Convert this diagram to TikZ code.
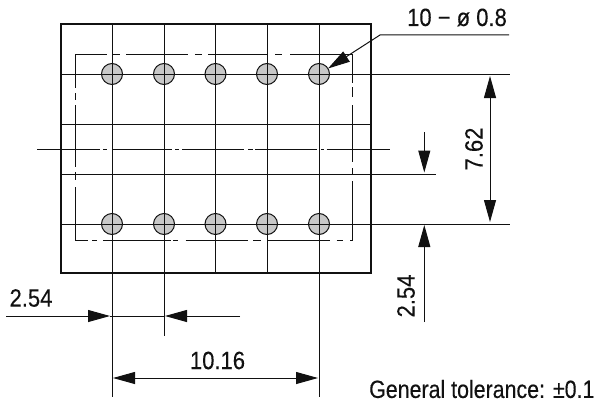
\documentclass[tikz,border=0pt]{standalone}
\usepackage{fontspec}
\setmainfont[FakeStretch=0.88,FakeBold=0.25]{Liberation Sans}
\newfontfamily\tolfont[FakeStretch=0.855,FakeBold=0.25]{Liberation Sans}
\usetikzlibrary{arrows.meta}
\definecolor{pinfill}{HTML}{C8C8C8}
\definecolor{inkc}{HTML}{111111}
\tikzset{
  thin line/.style={draw=inkc,line width=1pt},
  outline/.style={draw=inkc,line width=2pt},
  dd line/.style={draw=inkc,line width=1pt},
  pin/.style={circle,draw=inkc,line width=1pt,fill=pinfill,minimum size=21pt,inner sep=0pt},
  dim/.style={thin line,-{Triangle[length=22pt,width=12pt]}},
  dimboth/.style={thin line,{Triangle[length=22pt,width=12pt]}-{Triangle[length=22pt,width=12pt]}},
  label/.style={inner sep=0pt,text=inkc,font=\fontsize{25pt}{25pt}\selectfont},
}
\begin{document}
\begin{tikzpicture}[x=1pt,y=-1pt]
\useasboundingbox (0,0) rectangle (596,404);
% pins first, so the centre lines run over them
\foreach \n/\x in {1/112,2/164,3/215.5,4/267,5/319}{
  \node[pin] (t\n) at (\x,74) {};
  \node[pin] (b\n) at (\x,224) {};
}
% outline
\draw[outline] (61,24) rectangle (370.5,273);
% vertical centre lines
\draw[thin line] (112,24) -- (112,397);
\draw[thin line] (164,24) -- (164,336);
\draw[thin line] (215.5,24) -- (215.5,273);
\draw[thin line] (267,24) -- (267,273);
\draw[thin line] (319,24) -- (319,397);
% horizontal lines
\draw[thin line] (61,74) -- (510,74);
\draw[thin line] (61,124) -- (370.5,124);
\draw[thin line] (61,174) -- (436,174);
\draw[thin line] (61,224) -- (510,224);
% dash-dot rectangle, side by side
\draw[dd line,dash pattern=on 31.4pt off 6.3pt on 7pt off 6.3pt on 62pt off 6.5pt on 7pt off 6.5pt on 60pt off 7pt on 7pt off 8pt on 62pt] (75.3,54.3) -- (352.7,54.3);
\draw[dd line,dash pattern=on 33.7pt off 5pt on 7pt off 5pt on 62pt off 5pt on 8pt off 7pt on 60pt] (75.3,54.3) -- (75.3,240.7);
\draw[dd line,dash pattern=on 28.7pt off 4pt on 10pt off 8pt on 57pt off 6pt on 7pt off 6pt on 60pt] (352.7,54.3) -- (352.7,240.7);
\draw[dd line,dash pattern=on 12.7pt off 4pt on 5pt off 6pt on 67.7pt off 2.3pt on 5pt off 7.7pt on 62.6pt off 4.7pt on 8pt off 6pt on 63pt off 6.7pt on 6.3pt off 7pt on 3pt] (75.3,240.7) -- (352.7,240.7);
% centre line
\draw[dd line,dash pattern=on 63pt off 3pt on 4pt off 5pt on 60pt off 3pt on 4pt off 3pt on 62pt off 4pt on 4.5pt off 2.5pt on 62pt off 4pt on 2.5pt off 3pt on 64pt] (37,149) -- (390,149);
% leader
\coordinate (leadEnd) at (509,35);
\coordinate (leadKnee) at (380,35);
\draw[dim] (leadEnd) -- (leadKnee) -- (328,68.5);
% 7.62
\draw[dimboth] (490,76) -- (490,222);
% right 2.54
\draw[dim] (424.3,132) -- (424.3,172.5);
\draw[dim] (424.3,322) -- (424.3,225);
% bottom 2.54
\draw[dim] (6,316) -- (110,316);
\draw[dim] (240,316) -- (165,316);
\draw[thin line] (110,316) -- (165,316);
% 10.16
\draw[dimboth] (113,378) -- (318,378);
% labels
\node[label] (lDia) at (457,17.5) {10 − ø 0.8};
\node[label,rotate=90] (l762) at (474,149) {7.62};
\node[label,rotate=90] (l254r) at (406,296) {2.54};
\node[label] (l254b) at (31,298) {2.54};
\node[label] (l1016) at (217.5,360.5) {10.16};
\node[label,anchor=west] (lTol) at (369,389) {\tolfont General tolerance: ±0.1};
\end{tikzpicture}
\end{document}
